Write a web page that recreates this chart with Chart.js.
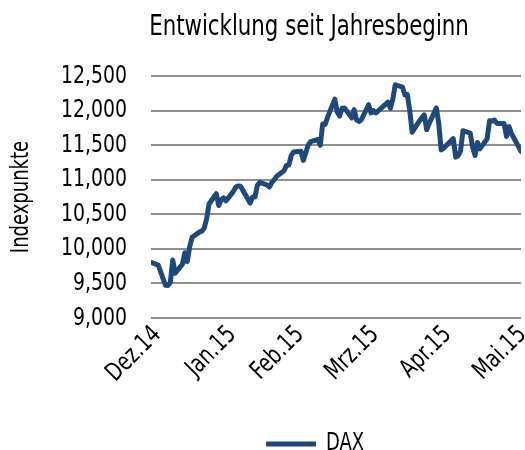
<!DOCTYPE html>
<html><head><meta charset="utf-8">
<script src="https://cdn.jsdelivr.net/npm/chart.js@4/dist/chart.umd.min.js"></script>
<style>html,body{margin:0;padding:0;background:#fff;}#wrap{width:525px;height:450px;}</style>
</head><body><div id="wrap"><canvas id="c" width="525" height="450"></canvas></div>
<script>
const titleText = 'Entwicklung seit Jahresbeginn';
const yAxisTitle = 'Indexpunkte';
const seriesName = 'DAX';
const dates = ['2014-12-30','2015-01-02','2015-01-05','2015-01-06','2015-01-07','2015-01-08','2015-01-09','2015-01-12','2015-01-13','2015-01-14','2015-01-15','2015-01-16','2015-01-19','2015-01-20','2015-01-21','2015-01-22','2015-01-23','2015-01-26','2015-01-27','2015-01-28','2015-01-29','2015-01-30',
'2015-02-02','2015-02-03','2015-02-04','2015-02-05','2015-02-06','2015-02-09','2015-02-10','2015-02-11','2015-02-12','2015-02-13','2015-02-16','2015-02-17','2015-02-18','2015-02-19','2015-02-20','2015-02-23','2015-02-24','2015-02-25','2015-02-26','2015-02-27',
'2015-03-02','2015-03-03','2015-03-04','2015-03-05','2015-03-06','2015-03-09','2015-03-10','2015-03-11','2015-03-12','2015-03-13','2015-03-16','2015-03-17','2015-03-18','2015-03-19','2015-03-20','2015-03-23','2015-03-24','2015-03-25','2015-03-26','2015-03-27','2015-03-30','2015-03-31',
'2015-04-01','2015-04-02','2015-04-07','2015-04-08','2015-04-09','2015-04-10','2015-04-13','2015-04-14','2015-04-15','2015-04-16','2015-04-17','2015-04-20','2015-04-21','2015-04-22','2015-04-23','2015-04-24','2015-04-27','2015-04-28','2015-04-29','2015-04-30',
'2015-05-04','2015-05-05','2015-05-06','2015-05-07','2015-05-08','2015-05-11','2015-05-12','2015-05-13','2015-05-14','2015-05-15','2015-05-18','2015-05-19','2015-05-20','2015-05-21','2015-05-22','2015-05-25','2015-05-26','2015-05-27','2015-05-28','2015-06-01'];
const daxValues = [9805,9765,9473,9470,9518,9837,9648,9780,9945,9817,10032,10167,10242,10257,10299,10435,10649,10798,10628,10710,10738,10694,
10828,10891,10911,10905,10846,10663,10752,10752,10919,10963,10924,10895,10961,11001,11050,11131,11205,11211,11352,11401,
11413,11280,11390,11504,11551,11582,11500,11806,11799,11901,12167,11980,11922,12036,12039,11895,12015,11865,11843,11868,12086,11966,
11999,11967,12123,12035,12166,12374,12338,12227,12232,11998,11688,11850,11896,11939,11723,11811,12039,11811,11432,11454,
11596,11327,11350,11416,11709,11674,11472,11351,11540,11447,11594,11853,11848,11864,11815,11815,11625,11771,11673,11410];
const tickDates = ['2014-12-31','2015-01-31','2015-02-28','2015-03-31','2015-04-30','2015-05-31'];
const tickLabels = ['Dez.14','Jan.15','Feb.15','Mrz.15','Apr.15','Mai.15'];
const yTicks = [9000,9500,10000,10500,11000,11500,12000,12500];

const FONT = "'DejaVu Sans Condensed','Liberation Sans Narrow',sans-serif";
const TEXT_STRETCH = 1.2;
const DAY = 86400000;
function utc(s){const p=s.split('-').map(Number);return Date.UTC(p[0],p[1]-1,p[2]);}
const base = utc(dates[0]);
function dayNum(s){return (utc(s)-base)/DAY;}
const points = dates.map((d,i)=>({x:dayNum(d),y:daxValues[i]}));

const canvas = document.getElementById('c');
const ctx2d = canvas.getContext('2d');
const nativeFill = CanvasRenderingContext2D.prototype.fillText;
ctx2d.fillText = function(t,x,y,mw){
  this.save(); this.translate(x,y); this.scale(1,TEXT_STRETCH);
  if (mw === undefined) nativeFill.call(this,t,0,0); else nativeFill.call(this,t,0,0,mw);
  this.restore();
};

const PAD_BOTTOM = -14;
const blockShift = {id:'blockShift', afterLayout(chart){
  const L = chart.legend;
  if (L && L.lineWidths) {
    const cur = (L.left + L.right - L.lineWidths[0]) / 2;
    L.left += 2 * (263 - cur);
  }
  const T = chart.titleBlock;
  if (T) {
    const c = (T.left + T.right) / 2;
    T.left += 2 * (309 - c);
  }
}};

new Chart(ctx2d,{
  type:'line',
  data:{datasets:[{label:seriesName,data:points,borderColor:'#1F497D',backgroundColor:'#1F497D',borderWidth:5,pointRadius:0,pointHoverRadius:0,tension:0,borderCapStyle:'round',borderJoinStyle:'round'}]},
  options:{
    responsive:false,animation:false,
    layout:{padding:{left:0,right:4,top:0,bottom:PAD_BOTTOM}},
    plugins:{
      title:{display:true,text:titleText,color:'#000',font:{family:FONT,size:23.7,weight:'normal'},padding:{top:13,bottom:34.6}},
      legend:{position:'bottom',labels:{usePointStyle:true,pointStyle:'line',pointStyleWidth:50,color:'#000',font:{family:FONT,size:20},padding:6}},
      tooltip:{enabled:false}
    },
    scales:{
      x:{type:'linear',min:0,max:dayNum(dates[dates.length-1]),
        grid:{display:false,drawTicks:false},border:{display:false},
        afterBuildTicks:(s)=>{s.ticks=tickDates.map(d=>({value:dayNum(d)}));},
        afterFit:(s)=>{s.height=450-PAD_BOTTOM-s.chart.legend.height-318; s.paddingLeft=0; s.paddingRight=0;},
        ticks:{autoSkip:false,maxRotation:45,minRotation:45,padding:4,labelOffset:4,color:'#000',font:{family:FONT,size:21},
          callback:(v,i)=>tickLabels[i]}},
      y:{min:9000,max:12500,
        grid:{color:'#8f8f8f',lineWidth:2,drawTicks:false},border:{display:false},
        afterBuildTicks:(s)=>{s.ticks=yTicks.map(v=>({value:v}));},
        afterFit:(s)=>{s.width=151;},
        ticks:{padding:24,color:'#000',font:{family:FONT,size:21},callback:(v)=>v.toLocaleString('en-US')},
        title:{display:true,text:yAxisTitle,color:'#000',font:{family:FONT,size:20},padding:{top:10,bottom:0}}}
    }
  },
  plugins:[blockShift]
});
</script></body></html>
